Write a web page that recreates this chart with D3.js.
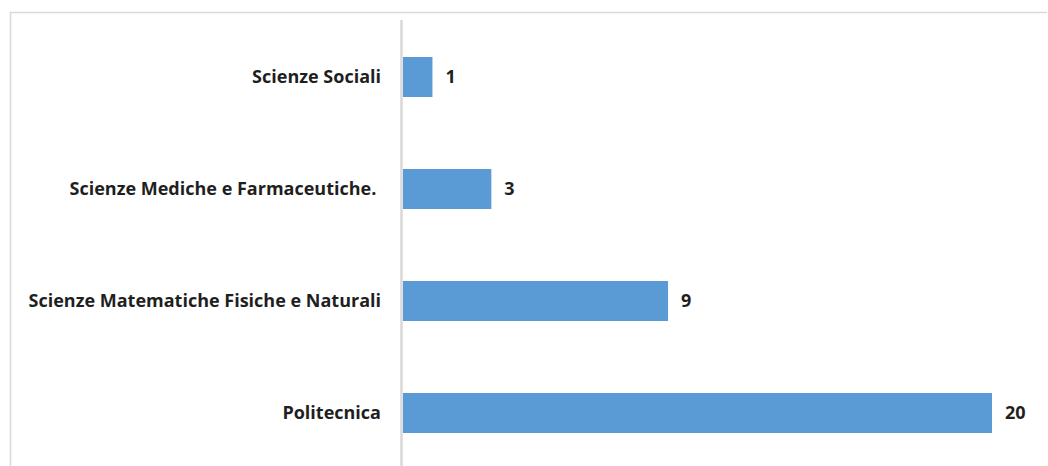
<!DOCTYPE html>
<html><head><meta charset="utf-8">
<script src="https://cdn.jsdelivr.net/npm/d3@7"></script>
<style>body{margin:0;background:#fff;} svg{display:block;}</style>
</head><body>
<script>
const categories = ["Scienze Sociali", "Scienze Mediche e Farmaceutiche.\u00a0", "Scienze Matematiche Fisiche e Naturali", "Politecnica"];
const values = [1, 3, 9, 20];

const W = 1048, H = 466;
const svg = d3.select("body").append("svg").attr("width", W).attr("height", H);

// outer frame
svg.append("path").attr("d", `M10.5,${H} V12.5 H${W-1}`)
  .attr("fill", "none").attr("stroke", "#d9d9d9").attr("stroke-width", 1.5);

const x0 = 403;
const x = d3.scaleLinear().domain([0, 20]).range([x0, 992]);
const y = d3.scaleBand().domain(categories).range([21, 469]).paddingInner(0.643).paddingOuter(0.3215);

const font = "'Open Sans', sans-serif";

svg.selectAll("rect.bar").data(values).enter().append("rect")
  .attr("class", "bar")
  .attr("x", x(0))
  .attr("y", (d, i) => y(categories[i]))
  .attr("width", d => x(d) - x(0))
  .attr("height", y.bandwidth())
  .attr("fill", "#5b9bd5");

// axis line
svg.append("line").attr("x1", 401.5).attr("x2", 401.5).attr("y1", 20).attr("y2", H)
  .attr("stroke", "#d9d9d9").attr("stroke-width", 2.5);

svg.selectAll("text.cat").data(categories).enter().append("text")
  .attr("class", "cat")
  .attr("x", 381)
  .attr("y", d => y(d) + y.bandwidth() / 2)
  .attr("dy", "0.35em")
  .attr("text-anchor", "end")
  .attr("font-family", font).attr("font-weight", "bold").attr("font-size", 18)
  .attr("fill", "#1f1f1f")
  .style("white-space", "pre")
  .text(d => d);

svg.selectAll("text.val").data(values).enter().append("text")
  .attr("class", "val")
  .attr("x", d => x(d) + 13)
  .attr("y", (d, i) => y(categories[i]) + y.bandwidth() / 2)
  .attr("dy", "0.35em")
  .attr("font-family", font).attr("font-weight", "bold").attr("font-size", 18)
  .attr("fill", "#1f1f1f")
  .text(d => d);
</script>
</body></html>
